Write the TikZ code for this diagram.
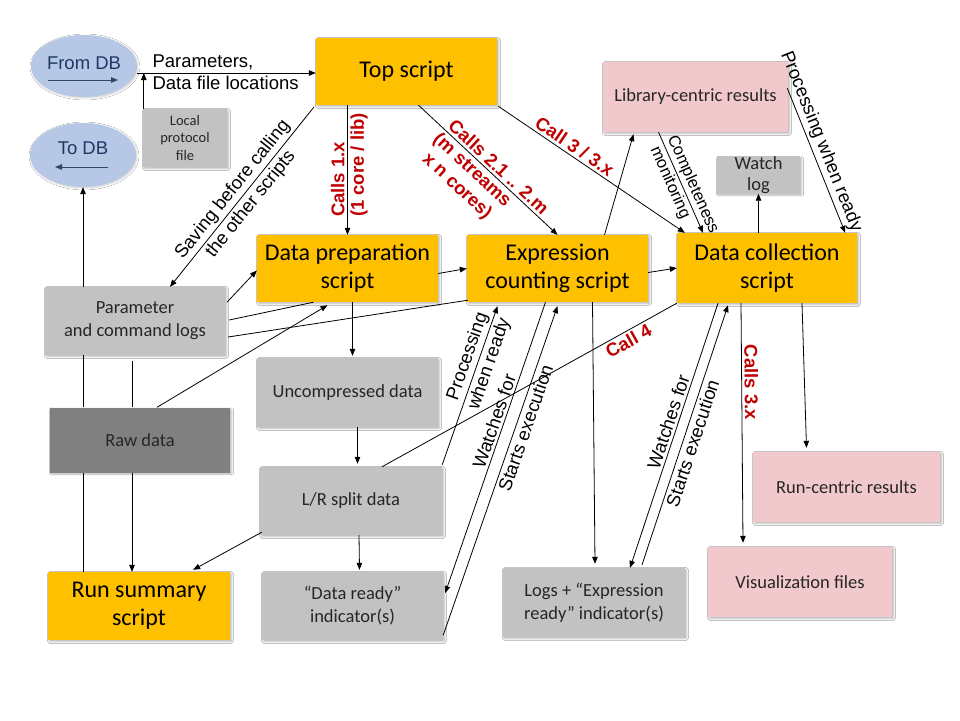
\documentclass[tikz,border=0pt]{standalone}
\usepackage{fontspec}
\setmainfont{Carlito}
\newfontfamily\arialf{Liberation Sans}
\usetikzlibrary{calc,arrows.meta,shapes.geometric,shadows.blur}

\definecolor{ygold}{RGB}{255,192,0}
\definecolor{gboxc}{RGB}{194,194,194}
\definecolor{gdarkc}{RGB}{128,128,128}
\definecolor{pinkc}{RGB}{241,201,205}
\definecolor{bluec}{RGB}{182,200,230}
\definecolor{navyc}{RGB}{31,56,100}
\definecolor{redl}{RGB}{192,0,0}

\begin{document}
\begin{tikzpicture}[x=1pt,y=-1pt,
  >={Triangle[length=7pt,width=5.5pt]},
  box/.style={rectangle, inner sep=2pt, align=center,
    blur shadow={shadow xshift=1.5pt, shadow yshift=-1.5pt, shadow blur steps=4, shadow opacity=30}},
  ybox/.style={box, fill=ygold, font=\fontsize{24}{28}\selectfont},
  gbox/.style={box, fill=gboxc, text=black!85, font=\fontsize{18.5}{23}\selectfont},
  dbox/.style={box, fill=gdarkc, text=black!85, font=\fontsize{18.5}{23}\selectfont},
  pbox/.style={box, fill=pinkc, text=black!85, font=\fontsize{18.5}{23}\selectfont},
  dbell/.style={ellipse, fill=bluec, inner sep=0pt, text=navyc, text height=12pt,
    font=\arialf\fontsize{18.5}{20}\selectfont,
    blur shadow={shadow xshift=1pt, shadow yshift=-1pt, shadow blur steps=4, shadow opacity=20}},
  conn/.style={draw, line width=0.8pt, ->},
  plain/.style={draw, line width=0.8pt},
  lab/.style={font=\arialf\fontsize{18.5}{21}\selectfont, inner sep=2.5pt},
  slab/.style={font=\arialf\fontsize{16.5}{18}\selectfont, inner sep=2pt},
  rlab/.style={font=\arialf\bfseries\fontsize{18.5}{22}\selectfont, text=redl, inner sep=2.5pt, align=center}
]
\fill[white] (0,0) rectangle (960,720);
\useasboundingbox (0,0) rectangle (960,720);

% ---- nodes
\node[dbell, minimum width=106pt, minimum height=62pt, text depth=6pt] (fromdb) at (84,66) {From DB};
\node[dbell, minimum width=106pt, minimum height=64pt, text depth=13pt] (todb) at (83,155) {To DB};
\node[gbox, minimum width=84pt, minimum height=58pt, inner sep=0pt, font=\fontsize{14.5}{17.5}\selectfont] (local) at (185,138) {Local\\protocol\\file};
\node[ybox, minimum width=181pt, minimum height=67pt] (top) at (406.5,71.5) {Top script};
\node[pbox, minimum width=185pt, minimum height=70pt] (lib) at (695.5,97) {Library-centric results};
\node[gbox, minimum width=83pt, minimum height=36pt, inner sep=0pt, font=\fontsize{18.5}{21}\selectfont] (watch) at (758.5,175) {Watch\\log};
\node[ybox, minimum width=180pt, minimum height=70pt] (dcoll) at (767,268) {Data collection\\script};
\node[ybox, minimum width=181pt, minimum height=67pt] (expr) at (557.5,268.5) {Expression\\counting script};
\node[ybox, minimum width=181pt, minimum height=67pt] (prep) at (347.5,268.5) {Data preparation\\script};
\node[gbox, minimum width=180pt, minimum height=68pt] (param) at (135,321) {Parameter\\and command logs};
\node[dbox, minimum width=180pt, minimum height=65pt] (raw) at (140,440) {Raw data};
\node[gbox, minimum width=181pt, minimum height=69pt] (uncomp) at (347.5,392.5) {Uncompressed data};
\node[gbox, minimum width=182pt, minimum height=68pt] (lrsplit) at (351,501) {L/R split data};
\node[gbox, minimum width=181pt, minimum height=68pt] (ready) at (352.5,606) {“Data ready”\\indicator(s)};
\node[ybox, minimum width=182pt, minimum height=68pt] (runsum) at (139,606) {Run summary\\script};
\node[gbox, minimum width=182pt, minimum height=69pt] (logs) at (594,602.5) {Logs + “Expression\\ready” indicator(s)};
\node[pbox, minimum width=187pt, minimum height=70pt] (runres) at (846.5,487) {Run-centric results};
\node[pbox, minimum width=184pt, minimum height=70pt] (vis) at (800,582) {Visualization files};

% inner arrows of the DB ellipses
\draw[navyc!80!gray, line width=1pt, ->] ($(fromdb)+(-36,14)$) -- ($(fromdb)+(34,14)$);
\draw[navyc!80!gray, line width=1pt, ->] ($(todb)+(25,12)$) -- ($(todb)+(-28,12)$);

% ---- connectors
\coordinate (pl) at ($(fromdb.east)+(0,7)$);
\draw[conn] (pl) -- (pl -| top.west)
  node[lab, pos=0.07, anchor=south west]{Parameters,}
  node[lab, pos=0.07, anchor=north west]{Data file locations};

\coordinate (lp) at ($(local.north west)+(1,0)$);
\draw[conn] (lp) -- (lp |- pl);

\draw[conn, <-] ($(param.north)+(35,0)$) -- ($(top.south west)+(-2,2)$)
  node[lab, pos=0.5, sloped, above]{Saving before calling}
  node[lab, pos=0.5, sloped, below]{the other scripts};

\draw[conn, <-] (prep.north) -- (prep.north |- top.south)
  node[rlab, pos=0.115, sloped, anchor=south west]{Calls 1.x}
  node[rlab, pos=0.115, sloped, anchor=north west]{(1 core / lib)};

\draw[conn] ($(top.south)+(12,0)$) -- (expr.north)
  node[rlab, pos=0.53, sloped, above]{Calls 2.1 .. 2.m}
  node[rlab, pos=0.44, sloped, below]{(m streams\\x n cores)};

\draw[conn] ($(top.south east)+(1,1)$) -- ($(dcoll.north west)+(8,0)$)
  node[rlab, pos=0.38, sloped, above]{Call 3 / 3.x};

\draw[conn] ($(expr.north)+(47,0)$) -- ($(lib.south)+(-62,2)$);

\draw[conn] ($(lib.south)+(-37,0)$) -- ($(dcoll.north)+(-64,0)$)
  node[slab, pos=0.06, sloped, anchor=south west]{Completeness}
  node[slab, pos=0.09, sloped, anchor=north west]{monitoring};

\draw[conn] (dcoll.north -| watch.south) -- (watch.south);

\draw[conn] ($(lib.east)+(-1,-9)$) -- ($(dcoll.north east)+(-12,0)$)
  node[lab, pos=0.4, sloped, above]{Processing when ready};

\draw[conn] ($(prep.east)+(0,5)$) -- (expr.west);
\draw[conn] ($(expr.east)+(0,4)$) -- (dcoll.west);
\draw[conn] ($(param.east)+(2,-19)$) -- ($(prep.west)+(0,2)$);
\draw[plain] ($(param.east)+(4,-1)$) -- ($(prep.south)+(-34,0)$);
\draw[plain] ($(param.east)+(3,16)$) -- ($(expr.south west)+(1,-2)$);
\draw[conn] ($(raw.north)+(17,0)$) -- ($(prep.south)+(-20,3)$);

\draw[conn] (param.north -| todb.south) -- (todb.south);
\draw[plain] (raw.north -| todb.south) -- (param.south -| todb.south);
\draw[plain] (runsum.north -| todb.south) -- (raw.south -| todb.south);

\coordinate (v2) at ($(param.south)+(-3,6)$);
\draw[plain] (v2) -- (v2 |- raw.north);
\draw[conn] (v2 |- raw.south) -- (v2 |- runsum.north);

\coordinate (v3) at ($(prep.south)+(5,0)$);
\draw[conn] (v3) -- ($(v3 |- uncomp.north)+(0,-2)$);
\coordinate (v4) at ($(uncomp.south)+(10,0)$);
\draw[conn] (v4) -- ($(v4 |- lrsplit.north)+(0,-3)$);
\draw[conn] ($(lrsplit.south)+(8,0)$) -- ($(ready.north)+(7,-2)$);
\draw[conn] ($(lrsplit.south west)+(2,-3)$) -- ($(runsum.north east)+(-37,-2)$);

\draw[plain] ($(lrsplit.north)+(31,0)$) -- (dcoll.south west)
  node[rlab, pos=0.82, sloped, below]{Call 4};

\draw[conn] ($(lrsplit.north east)+(0,-2)$) -- ($(expr.south)+(-60,4)$)
  node[lab, pos=0.66, sloped, above]{Processing}
  node[lab, pos=0.66, sloped, below]{when ready};

\draw[conn, <-] ($(ready.east)+(2,-13)$) -- ($(expr.south)+(-12,0)$)
  node[lab, pos=0.58, sloped, above]{Watches for};
\draw[conn] ($(ready.south east)+(0,-5)$) -- ($(expr.south)+(0,4)$)
  node[lab, pos=0.64, sloped, below]{Starts execution};

\draw[conn] ($(expr.south)+(35,0)$) -- ($(logs.north)+(1,-4)$);

\draw[conn, <-] ($(logs.north)+(36,0)$) -- ($(dcoll.south)+(-49,0)$)
  node[lab, pos=0.54, sloped, above]{Watches for};
\draw[conn] ($(logs.north)+(48,-3)$) -- ($(dcoll.south)+(-39,2)$)
  node[lab, pos=0.48, sloped, below]{Starts execution};

\draw[conn] ($(dcoll.south)+(-26,0)$) -- ($(vis.north)+(-57,-4)$)
  node[rlab, pos=0.33, sloped, above]{Calls 3.x};
\draw[conn] ($(dcoll.south)+(35,0)$) -- ($(runres.north)+(-40,-4)$);
\end{tikzpicture}
\end{document}
